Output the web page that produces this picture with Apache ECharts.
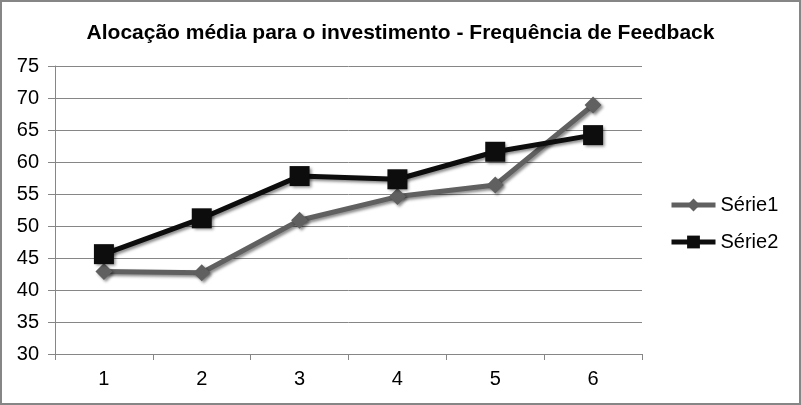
<!DOCTYPE html>
<html>
<head>
<meta charset="utf-8">
<script src="https://cdn.jsdelivr.net/npm/echarts@6/dist/echarts.min.js"></script>
<style>
  html, body { margin: 0; padding: 0; background: #fff; }
  #chart { width: 801px; height: 405px; box-sizing: border-box; border: 2px solid #868686; }
</style>
</head>
<body>
<div id="chart"></div>
<script>
// dados
var categorias = ['1', '2', '3', '4', '5', '6'];
var serie1 = [42.9, 42.7, 50.9, 54.6, 56.4, 68.9];
var serie2 = [45.6, 51.2, 57.8, 57.3, 61.6, 64.2];
var nomes = ['Série1', 'Série2'];

var grafico = echarts.init(document.getElementById('chart'));

var sombra = {
  shadowColor: 'rgba(0,0,0,0.45)',
  shadowBlur: 3,
  shadowOffsetX: 2,
  shadowOffsetY: 2
};

var opcao = {
  animation: false,
  textStyle: { fontFamily: 'Liberation Sans, Arial, sans-serif' },
  title: {
    text: 'Alocação média para o investimento - Frequência de Feedback',
    left: 'center',
    top: 16,
    textStyle: { fontSize: 21, fontWeight: 'bold', color: '#000' }
  },
  legend: {
    orient: 'vertical',
    left: 662,
    top: 188,
    itemWidth: 44,
    itemHeight: 16,
    itemGap: 17,
    lineStyle: { width: 5 },
    textStyle: { fontSize: 20, color: '#000' },
    data: nomes
  },
  grid: { left: 53, right: 157, top: 64, bottom: 49 },
  xAxis: {
    type: 'category',
    data: categorias,
    boundaryGap: true,
    axisLine: { lineStyle: { color: '#868686', width: 1 } },
    axisTick: { show: true, length: 6, lineStyle: { color: '#868686' } },
    axisLabel: { fontSize: 20, color: '#000', margin: 15 }
  },
  yAxis: {
    type: 'value',
    min: 30,
    max: 75,
    interval: 5,
    axisLine: { show: true, lineStyle: { color: '#868686', width: 1 } },
    axisTick: { show: true, length: 7, lineStyle: { color: '#868686' } },
    axisLabel: { fontSize: 20, color: '#000', margin: 16 },
    splitLine: { lineStyle: { color: '#868686', width: 1 } }
  },
  series: [
    {
      name: nomes[0],
      type: 'line',
      data: serie1,
      symbol: 'diamond',
      symbolSize: 17,
      color: '#606060',
      lineStyle: Object.assign({ width: 5, color: '#606060' }, sombra),
      itemStyle: Object.assign({ color: '#606060' }, sombra)
    },
    {
      name: nomes[1],
      type: 'line',
      data: serie2,
      symbol: 'rect',
      symbolSize: 20,
      color: '#0d0d0d',
      lineStyle: Object.assign({ width: 5, color: '#0d0d0d' }, sombra),
      itemStyle: Object.assign({ color: '#0d0d0d' }, sombra)
    }
  ]
};

grafico.setOption(opcao);
</script>
</body>
</html>
